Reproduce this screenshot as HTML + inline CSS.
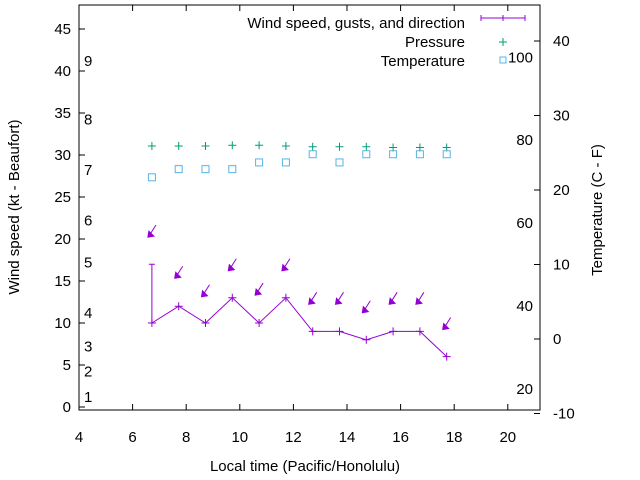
<!DOCTYPE html>
<html><head><meta charset="utf-8"><style>
body{margin:0;background:#fff}
svg{display:block;font-family:"Liberation Sans",sans-serif}
</style></head><body>
<svg id="c" width="640" height="480" viewBox="0 0 640 480"></svg>
<script>
const hours=[6.72,7.72,8.72,9.72,10.72,11.72,12.72,13.72,14.72,15.72,16.72,17.72];
const wind=[10,12,10,13,10,13,9,9,8,9,9,6];
const gustHour=[6.72];
const gustVal=[17];
const arrowY=[20.7,15.8,13.6,16.7,13.8,16.7,12.7,12.7,11.7,12.7,12.7,9.7];
const pressure=[25.9,25.9,25.9,26.0,26.0,25.9,25.8,25.8,25.8,25.7,25.7,25.7];
const temperature=[21.7,22.8,22.8,22.8,23.7,23.7,24.8,23.7,24.8,24.8,24.8,24.8];
const xTicks=[4,6,8,10,12,14,16,18,20];
const yTicks=[0,5,10,15,20,25,30,35,40,45];
const y2Ticks=[-10,0,10,20,30,40];
const beaufortLabels=["1","2","3","4","5","6","7","8","9"];
const beaufortAt=[1.2,4.2,7.2,11.2,17.2,22.2,28.2,34.2,41.2];
const fLabels=["20","40","60","80","100"];
const fAtC=[-6.7,4.4,15.6,26.7,37.8];
const L=79,R=540,T=5,B=410;
const X=v=>L+(v-4)*26.8;
const Y=v=>407-v*8.4;
const Y2=v=>339-v*7.45;
const svg=document.getElementById('c');
const NS='http://www.w3.org/2000/svg';
function mk(tag,attrs,parent){const e=document.createElementNS(NS,tag);for(const k in attrs)e.setAttribute(k,attrs[k]);(parent||svg).appendChild(e);return e;}
let e;
e=mk('rect',{x:L,y:T,width:R-L,height:B-T,fill:'none',stroke:'#000','stroke-width':1});


xTicks.forEach(t=>{const x=X(t);
 e=mk('path',{d:`M${x},${B}v-6M${x},${T}v6`,stroke:'#000'});
 
 
 e=mk('text',{x:x,y:442,'text-anchor':'middle','font-size':15});e.textContent=t;
 
 });
yTicks.forEach(t=>{const y=Y(t);
 e=mk('path',{d:`M${L},${y}h6`,stroke:'#000'});
 
 
 e=mk('text',{x:71,y:y+5,'text-anchor':'end','font-size':15});e.textContent=t;
 
 });
y2Ticks.forEach(t=>{const y=Y2(t);
 e=mk('path',{d:`M${R},${y}h-6`,stroke:'#000'});
 
 
 e=mk('text',{x:553,y:y+5,'font-size':15});e.textContent=t;
 
 });
beaufortLabels.forEach((s,i)=>{e=mk('text',{x:84,y:Y(beaufortAt[i])+5,'font-size':15});e.textContent=s;
 
 });
fLabels.forEach((s,i)=>{e=mk('text',{x:533,y:Y2(fAtC[i])+5,'text-anchor':'end','font-size':15});e.textContent=s;
 
 });
e=mk('text',{x:305,y:471,'text-anchor':'middle','font-size':15});e.textContent='Local time (Pacific/Honolulu)';


e=mk('text',{x:0,y:0,'text-anchor':'middle','font-size':15,transform:'translate(19,207) rotate(-90)'});e.textContent='Wind speed (kt - Beaufort)';


e=mk('text',{x:0,y:0,'text-anchor':'middle','font-size':15,transform:'translate(602,210) rotate(-90)'});e.textContent='Temperature (C - F)';


const P='#9400d3',G='#009e73',C='#56b4e9';
// wind line
e=mk('polyline',{points:hours.map((h,i)=>X(h)+','+Y(wind[i])).join(' '),fill:'none',stroke:P,'stroke-width':1});


hours.forEach((h,i)=>{const x=X(h),y=Y(wind[i]);
 e=mk('path',{d:`M${x-4},${y}h8M${x},${y-4}v8`,stroke:P});
 
 
 const ay=Y(arrowY[i]);
 e=mk('path',{d:`M${x+4},${ay-8}L${x-3},${ay+3}`,stroke:P});
 
 
 e=mk('path',{d:`M${x-4},${ay+4}l1,-6l5,5z`,fill:P,stroke:P});
 
 });
gustHour.forEach((h,i)=>{const x=X(h);const wi=hours.indexOf(h);
 e=mk('path',{d:`M${x},${Y(wind[wi])}V${Y(gustVal[i])}M${x-3},${Y(gustVal[i])}h6`,stroke:P});
 
 });
pressure.forEach((p,i)=>{const x=X(hours[i]),y=Y2(p);
 e=mk('path',{d:`M${x-4},${y}h8M${x},${y-4}v8`,stroke:G});
 
 });
temperature.forEach((t,i)=>{const x=X(hours[i]),y=Y2(t);
 e=mk('rect',{x:x-3.5,y:y-3.5,width:7,height:7,fill:'none',stroke:C});
 
 });
// legend
const lg=[['Wind speed, gusts, and direction',23],['Pressure',42],['Temperature',61]];
lg.forEach((l,i)=>{e=mk('text',{x:465,y:l[1]+5,'text-anchor':'end','font-size':15});e.textContent=l[0];
 
 });
e=mk('path',{d:'M481,18h44M481,15v6M525,15v6M503,15v6',stroke:P});


e=mk('path',{d:'M499,42h8M503,38v8',stroke:G});


e=mk('rect',{x:500,y:57,width:6,height:6,fill:'none',stroke:C});


</script>
</body></html>
